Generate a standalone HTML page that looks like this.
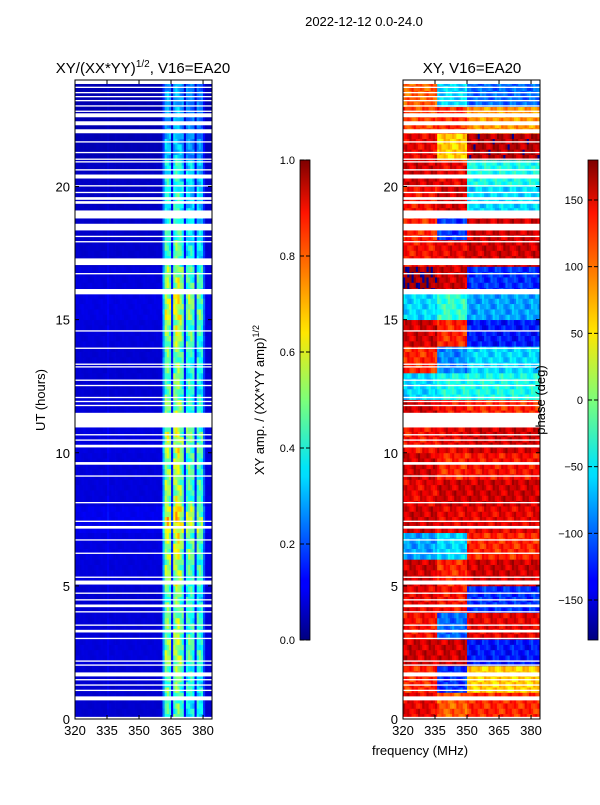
<!DOCTYPE html>
<html><head><meta charset="utf-8"><style>
body{margin:0;background:#fff;font-family:"Liberation Sans",sans-serif;}
svg text{font-family:"Liberation Sans",sans-serif;fill:#000}
</style></head><body>
<svg id="fig" width="600" height="800" xmlns="http://www.w3.org/2000/svg">
<defs>
<linearGradient id="jet" x1="0" y1="1" x2="0" y2="0">
<stop offset="0" stop-color="#00007f"/><stop offset="0.11" stop-color="#0000ff"/><stop offset="0.125" stop-color="#0000ff"/><stop offset="0.34" stop-color="#00dcff"/><stop offset="0.36" stop-color="#00e4f8"/><stop offset="0.5" stop-color="#7cff79"/><stop offset="0.64" stop-color="#ffe600"/><stop offset="0.66" stop-color="#ffd700"/><stop offset="0.89" stop-color="#ff1300"/><stop offset="1" stop-color="#7f0000"/>
</linearGradient>
</defs>
<text x="364" y="26" font-size="13" text-anchor="middle">2022-12-12 0.0-24.0</text>
<text x="143" y="73" font-size="15" text-anchor="middle">XY/(XX*YY)<tspan font-size="10" dy="-6">1/2</tspan><tspan dy="6">, V16=EA20</tspan></text>
<text x="472" y="73" font-size="15" text-anchor="middle">XY, V16=EA20</text>
<g id="ampPlot"></g>
<g id="phPlot"></g>
<g id="axes"></g>
<text transform="translate(45,400) rotate(-90)" font-size="13" text-anchor="middle">UT (hours)</text>
<text x="420" y="755" font-size="13" text-anchor="middle">frequency (MHz)</text>
<rect x="300" y="160" width="10" height="480" fill="url(#jet)" stroke="#000" stroke-width="0.8"/>
<rect x="588" y="160" width="10" height="480" fill="url(#jet)" stroke="#000" stroke-width="0.8"/>
<g id="cb"></g>
<text transform="translate(264,400) rotate(-90)" font-size="13" text-anchor="middle">XY amp. / (XX*YY amp)<tspan font-size="9" dy="-5">1/2</tspan></text>
<text transform="translate(545,400) rotate(-90)" font-size="13" text-anchor="middle">phase (deg)</text>
</svg>
<script>
const ampColProfile=[0.09,0.09,0.09,0.09,0.09,0.09,0.09,0.09,0.09,0.09,0.09,0.09,0.09,0.09,0.09,0.11,0.09,0.09,0.09,0.09,0.09,0.09,0.09,0.09,0.09,0.09,0.09,0.09,0.09,0.09,0.09,0.09,0.09,0.09,0.09,0.09,0.09,0.09,0.09,0.09,0.1,0.3,0.5,0.52,0.48,0.15,0.5,0.55,0.55,0.5,0.45,0.15,0.42,0.45,0.45,0.42,0.15,0.42,0.42,0.4,0.2,0.09,0.09,0.09];
const ampRowGain=[0.85,0.9,1.0,0.95,0.9,1.0,1.05,1.2,1.0,1.0,1.05,0.95,0.9,0.9,1.0,1.1,1.0,0.85,0.8,0.75,0.75,0.6,0.55,0.55];
const phaseLow=[140,120,150,130,140,150,-80,150,140,150,130,150,-60,120,150,-60,170,130,120,130,150,140,110,100];
const phaseMid=[100,-120,150,-100,130,120,-60,140,150,120,140,130,-40,-90,120,-30,150,140,-120,150,140,60,120,-60];
const phaseHigh=[120,60,-130,140,-120,150,120,140,150,130,150,120,-40,-60,-130,-80,-120,150,150,-60,-40,160,80,-100];
const texture=[0,0.3,-0.2,0.5,-0.4,0.1,0.6,-0.3,0.2,-0.5,0.4,0,-0.1,0.35,-0.25,0.15];
const flags=[[0,0.08],[0.7,0.85],[1.05,1.1],[1.25,1.3],[1.45,1.5],[1.6,1.75],[2.0,2.05],[2.15,2.2],[3.0,3.05],[3.25,3.35],[3.5,3.55],[4.0,4.05],[4.2,4.3],[4.45,4.5],[4.7,4.75],[5.05,5.2],[5.3,5.35],[6.2,6.25],[6.7,6.75],[7.15,7.25],[7.4,7.45],[8.1,8.15],[9.1,9.15],[9.55,9.65],[10.2,10.3],[10.45,10.5],[10.65,10.7],[10.95,11.5],[11.75,11.8],[11.9,11.95],[12.05,12.1],[12.5,12.55],[12.7,12.75],[13.2,13.25],[13.3,13.35],[13.9,13.95],[14.55,14.6],[15.95,16.15],[16.7,16.75],[17.05,17.3],[17.9,17.95],[18.1,18.15],[18.35,18.6],[18.8,19.1],[19.35,19.45],[19.5,19.6],[19.75,19.8],[20.0,20.05],[20.3,20.45],[20.6,20.65],[20.9,20.95],[21.0,21.05],[21.25,21.3],[21.65,21.7],[22.0,22.15],[22.3,22.45],[22.6,22.75],[22.8,22.85],[23.0,23.05],[23.2,23.25],[23.35,23.4],[23.5,23.55],[23.7,23.75],[23.85,24]];
const xTicks=[320,335,350,365,380];
const yTicks=[0,5,10,15,20];
const ampCbTicks=[0.0,0.2,0.4,0.6,0.8,1.0];
const phCbTicks=[-150,-100,-50,0,50,100,150];

const NS="http://www.w3.org/2000/svg";
const AX={top:80,bot:719,w:137};
const F0=320,F1=384.2;
function xs(left,f){return left+(f-F0)/(F1-F0)*AX.w;}
function ys(h){return AX.bot-(h/24)*(AX.bot-AX.top);}
function jet(v){v=Math.max(0,Math.min(1,v));
 const r=Math.max(0,Math.min(1,1.5-Math.abs(4*v-3))),g=Math.max(0,Math.min(1,1.5-Math.abs(4*v-2))),b=Math.max(0,Math.min(1,1.5-Math.abs(4*v-1)));
 return `rgb(${Math.round(r*255)},${Math.round(g*255)},${Math.round(b*255)})`;}
function mk(tag,attrs,parent){const e=document.createElementNS(NS,tag);for(const k in attrs)e.setAttribute(k,attrs[k]);parent.appendChild(e);return e;}
const amp=document.getElementById('ampPlot'),ph=document.getElementById('phPlot'),axes=document.getElementById('axes'),cb=document.getElementById('cb');
const dt=0.2,nr=120;
for(let r=0;r<nr;r++){
 const h=r*dt,hi=Math.floor(h);
 for(let c=0;c<ampColProfile.length;c++){
  const f=F0+c,t=texture[(r*3+c*5)%texture.length];
  let a=ampColProfile[c]*ampRowGain[hi];
  if(ampColProfile[c]>0.3)a=a*(1+0.35*t);else a=a*(1+0.15*t);
  let e=mk('rect',{x:xs(75,f).toFixed(2),y:ys(h+dt).toFixed(2),width:(AX.w/(F1-F0)+0.4).toFixed(2),height:((AX.bot-AX.top)*dt/24+0.4).toFixed(2),fill:jet(a)},amp);
  
  
  let p=f<336?phaseLow[hi]:(f<350?phaseMid[hi]:phaseHigh[hi]);
  p=p+40*t;if(p>180)p-=360;if(p<-180)p+=360;
  let e2=mk('rect',{x:xs(403,f).toFixed(2),y:ys(h+dt).toFixed(2),width:(AX.w/(F1-F0)+0.4).toFixed(2),height:((AX.bot-AX.top)*dt/24+0.4).toFixed(2),fill:jet((p+180)/360)},ph);
  
  
 }
}
for(const [a,b] of flags){for(const L of [75,403]){
 const e=mk('rect',{x:L,y:ys(b).toFixed(2),width:AX.w,height:(ys(a)-ys(b)).toFixed(2),fill:'#fff'},L==75?amp:ph);
 
 
}}
for(const L of [75,403]){
 const fr=mk('rect',{x:L,y:AX.top,width:AX.w,height:AX.bot-AX.top,fill:'none',stroke:'#000','stroke-width':1},axes);
 
 
 for(const t of xTicks){const x=xs(L,t);
  mk('line',{x1:x,x2:x,y1:AX.bot,y2:AX.bot-4,stroke:'#000'},axes);
  mk('line',{x1:x,x2:x,y1:AX.top,y2:AX.top+4,stroke:'#000'},axes);
  const tx=mk('text',{x:x,y:AX.bot+16,'font-size':13,'text-anchor':'middle'},axes);tx.textContent=t;
  
  }
 for(const t of yTicks){const y=ys(t);
  mk('line',{x1:L,x2:L+4,y1:y,y2:y,stroke:'#000'},axes);
  mk('line',{x1:L+AX.w,x2:L+AX.w-4,y1:y,y2:y,stroke:'#000'},axes);
  const tx=mk('text',{x:L-5,y:y+5,'font-size':13,'text-anchor':'end'},axes);tx.textContent=t;
  
  }
}
for(const t of ampCbTicks){const y=640-t*480;
 mk('line',{x1:300,x2:304,y1:y,y2:y,stroke:'#000'},cb);mk('line',{x1:310,x2:306,y1:y,y2:y,stroke:'#000'},cb);
 const tx=mk('text',{x:295,y:y+4,'font-size':11,'text-anchor':'end'},cb);tx.textContent=t.toFixed(1);
 
 }
for(const t of phCbTicks){const y=640-(t+180)/360*480;
 mk('line',{x1:588,x2:592,y1:y,y2:y,stroke:'#000'},cb);mk('line',{x1:598,x2:594,y1:y,y2:y,stroke:'#000'},cb);
 const tx=mk('text',{x:583,y:y+4,'font-size':11,'text-anchor':'end'},cb);tx.textContent=(t<0?'\u2212'+(-t):t);
 
 }
</script>
</body></html>
